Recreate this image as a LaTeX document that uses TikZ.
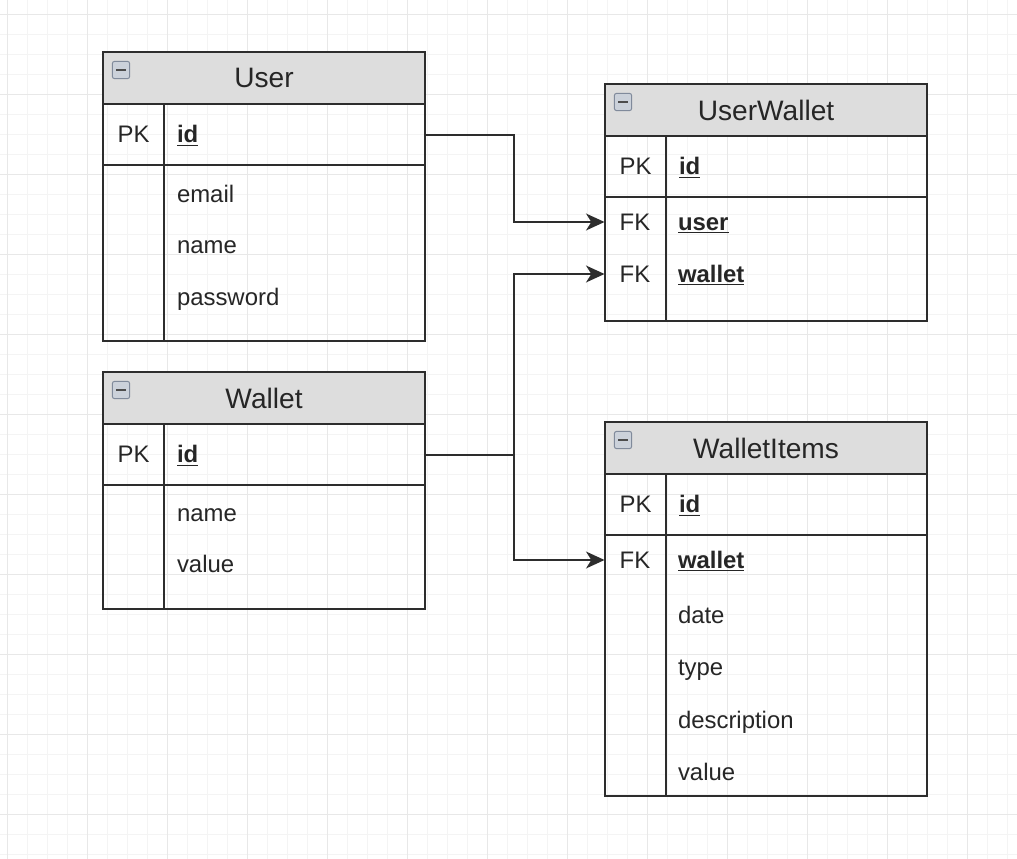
\documentclass[tikz,border=0pt]{standalone}
\usepackage{fontspec}
\setmainfont{Liberation Sans}
\usetikzlibrary{arrows.meta, positioning}
\definecolor{headgray}{RGB}{221,221,221}
\definecolor{edgegray}{RGB}{45,45,45}
\definecolor{minorgrid}{RGB}{244,244,244}
\definecolor{majorgrid}{RGB}{232,232,232}
\definecolor{iconfill}{RGB}{203,209,218}
\definecolor{iconedge}{RGB}{128,138,155}
\newcommand{\keyfield}[1]{\underline{\textbf{#1}}}

\begin{document}
\begin{tikzpicture}[x=0.025cm, y=-0.025cm,
  tblhead/.style={draw=edgegray, fill=headgray, line width=1.4pt, outer sep=0pt, anchor=north west, minimum width=8.05cm, minimum height=1.3cm, font=\fontsize{20}{24}\selectfont, text=black!85},
  tblicon/.style={draw=iconedge, fill=iconfill, rounded corners=1.5pt, line width=0.7pt, minimum size=0.43cm, inner sep=0pt, text=black!70},
  keycell/.style={draw=edgegray, line width=1.4pt, outer sep=0pt, anchor=north west, minimum width=1.525cm, inner sep=0pt, text height=12pt, text depth=0pt, font=\fontsize{17}{20}\selectfont, text=black!85},
  fieldcell/.style={draw=edgegray, line width=1.4pt, outer sep=0pt, anchor=north west, text width=5.875cm, inner xsep=0.325cm, inner ysep=0pt, align=left, text height=12pt, text depth=0pt, font=\fontsize{17}{20}\selectfont, text=black!85},
  keylabel/.style={minimum width=1.525cm, inner sep=0pt, outer sep=0pt, text height=12pt, text depth=0pt, font=\fontsize{17}{20}\selectfont, text=black!85},
  fieldtxt/.style={anchor=west, inner xsep=0.325cm, inner ysep=0pt, outer sep=0pt, text height=12pt, text depth=0pt, font=\fontsize{17}{20}\selectfont, text=black!85},
  fklink/.style={draw=edgegray, line width=1.4pt, -{Stealth[length=0.46cm, width=0.42cm, inset=0.13cm]}}]
\useasboundingbox (0,0) rectangle (1017,859);
\fill[white] (0,0) rectangle (1017,859);
% background grid
\foreach \gx in {7,27,...,1017} \draw[minorgrid, line width=0.6pt] (\gx,0) -- (\gx,859);
\foreach \gy in {14,34,...,859} \draw[minorgrid, line width=0.6pt] (0,\gy) -- (1017,\gy);
\foreach \gx in {7,87,...,1017} \draw[majorgrid, line width=0.7pt] (\gx,0) -- (\gx,859);
\foreach \gy in {14,94,...,859} \draw[majorgrid, line width=0.7pt] (0,\gy) -- (1017,\gy);

% User
\node[tblhead] (user) at (103,52) {User};
\node[tblicon] (user-icon) at (121,70) {\rule[-0.75pt]{7pt}{1.6pt}};
\node[keycell, minimum height=1.525cm] (user-pk) at (user.south west) {PK};
\node[fieldcell, minimum height=1.525cm] (user-id) at (user-pk.north east) {\keyfield{id}};
\node[keycell, minimum height=4.4cm] (user-kb) at (user-pk.south west) {};
\node[fieldcell, minimum height=4.4cm] (user-fb) at (user-kb.north east) {};
\node[fieldtxt] (user-email) at (164,194) {email};
\node[fieldtxt] (user-name) at (164,245) {name};
\node[fieldtxt] (user-pass) at (164,297) {password};

% Wallet
\node[tblhead] (wallet) at (103,372) {Wallet};
\node[tblicon] (wallet-icon) at (121,390) {\rule[-0.75pt]{7pt}{1.6pt}};
\node[keycell, minimum height=1.525cm] (wallet-pk) at (wallet.south west) {PK};
\node[fieldcell, minimum height=1.525cm] (wallet-id) at (wallet-pk.north east) {\keyfield{id}};
\node[keycell, minimum height=3.1cm] (wallet-kb) at (wallet-pk.south west) {};
\node[fieldcell, minimum height=3.1cm] (wallet-fb) at (wallet-kb.north east) {};
\node[fieldtxt] (wallet-name) at (164,513) {name};
\node[fieldtxt] (wallet-value) at (164,564) {value};

% UserWallet
\node[tblhead] (uw) at (605,84) {UserWallet};
\node[tblicon] (uw-icon) at (623,102) {\rule[-0.75pt]{7pt}{1.6pt}};
\node[keycell, minimum height=1.525cm] (uw-pk) at (uw.south west) {PK};
\node[fieldcell, minimum height=1.525cm] (uw-id) at (uw-pk.north east) {\keyfield{id}};
\node[keycell, minimum height=3.1cm] (uw-kb) at (uw-pk.south west) {};
\node[fieldcell, minimum height=3.1cm] (uw-fb) at (uw-kb.north east) {};
\node[keylabel] (uw-fk1) at (635,222) {FK};
\node[keylabel] (uw-fk2) at (635,274) {FK};
\node[fieldtxt] (uw-user) at (665,222) {\keyfield{user}};
\node[fieldtxt] (uw-wallet) at (665,274) {\keyfield{wallet}};

% WalletItems
\node[tblhead] (wi) at (605,422) {WalletItems};
\node[tblicon] (wi-icon) at (623,440) {\rule[-0.75pt]{7pt}{1.6pt}};
\node[keycell, minimum height=1.525cm] (wi-pk) at (wi.south west) {PK};
\node[fieldcell, minimum height=1.525cm] (wi-id) at (wi-pk.north east) {\keyfield{id}};
\node[keycell, minimum height=6.525cm] (wi-kb) at (wi-pk.south west) {};
\node[fieldcell, minimum height=6.525cm] (wi-fb) at (wi-kb.north east) {};
\node[keylabel] (wi-fk) at (635,560) {FK};
\node[fieldtxt] (wi-wallet) at (665,560) {\keyfield{wallet}};
\node[fieldtxt] (wi-date) at (665,615) {date};
\node[fieldtxt] (wi-type) at (665,667) {type};
\node[fieldtxt] (wi-desc) at (665,720) {description};
\node[fieldtxt] (wi-value) at (665,772) {value};

% relations
\draw[fklink] (user-id.east) -- ++(89,0) |- (uw-fk1.west);
\draw[fklink] (wallet-id.east) -- ++(89,0) |- (uw-fk2.west);
\draw[fklink] (wallet-id.east) -- ++(89,0) |- (wi-fk.west);
\end{tikzpicture}
\end{document}
